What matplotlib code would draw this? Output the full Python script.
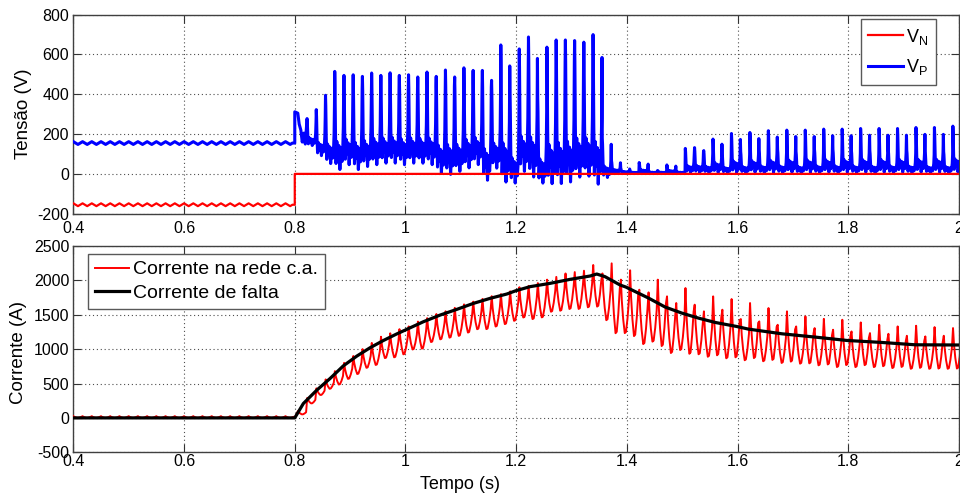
import numpy as np
import matplotlib
matplotlib.use("Agg")
import matplotlib.pyplot as plt

plt.rcParams['font.family'] = ['Liberation Sans', 'DejaVu Sans']
plt.rcParams['mathtext.fontset'] = 'custom'
plt.rcParams['mathtext.rm'] = 'Liberation Sans'
plt.rcParams['mathtext.it'] = 'Liberation Sans:italic'
plt.rcParams['axes.unicode_minus'] = False

FREQ = 60.0  # grid frequency (Hz)

# ---------------- data ----------------
# pre-fault ripple levels (V / A)
vp_pre_hi, vp_pre_lo = 162, 148
vn_pre_hi, vn_pre_lo = -148, -162
ia_pre_hi, ia_pre_lo = 25, 0
prefault_cycles = 24
t_prefault_start = 0.4
t_fault = 0.8

# V_P transient right after the fault
vp_trans_t = [0.8, 0.8, 0.8055, 0.808, 0.811, 0.8135, 0.8165, 0.819]
vp_trans_v = [155, 312, 305, 250, 220, 160, 205, 150]

# V_P: one peak and one minimum per 60 Hz cycle, first peak at 0.8222 s
vp_t_first = 0.8222
vp_peak = [278, 323, 395, 515, 495, 498, 490, 507, 495, 508,
           495, 498, 487, 512, 490, 522, 487, 533, 520, 520,
           470, 648, 395, 628, 688, 380, 637, 673, 673, 670,
           662, 700, 179, 65, 28, 15, 57, 17, 17, 45,
           17, 128, 132, 117, 175, 98, 203, 112, 208, 120,
           217, 123, 220, 112, 220, 123, 225, 123, 225, 120,
           228, 117, 228, 120, 228, 120, 233, 112, 233, 112, 240]
vp_low = [140, 87, 45, 12, 37, 12, 28, 37, 45, 45,
          37, 45, 45, 37, -5, -13, 3, 20, 37, -43,
          20, -55, -55, 0, -30, -55, -63, -63, -55, -30,
          -25, -67, -22, 4, 5, 5, 5, 5, 5, 5,
          5, 4, 4, 4, 4, 4, 4, 4, 4, 4,
          4, 4, 4, 4, 4, 4, 4, 4, 4, 4,
          4, 4, 4, 4, 4, 4, 4, 4, 4, 4, 4]
# shape of one V_P cycle (fraction of the peak-to-low swing)
vp_phase = [0.0, 0.03, 0.08, 0.14, 0.23, 0.34, 0.45, 0.56, 0.68, 0.79, 0.87, 0.93, 0.97]
vp_frac = [1.0, 0.85, 0.40, 0.08, 0.30, 0.14, 0.26, 0.02, 0.24, 0.10, 0.22, 0.45, 0.85]

# V_N after the fault
vn_post_t = [0.8, 0.8, 2.0]
vn_post_v = [-155, 0, 0]

# AC-grid current: one peak and one trough per cycle, first peak at 0.8058 s
ia_t_first = 0.8058
ia_peak = [100, 290, 430, 560, 680, 800, 900, 1000, 1090, 1180,
           1230, 1290, 1330, 1400, 1450, 1510, 1550, 1600, 1650, 1690,
           1730, 1770, 1800, 1840, 1900, 1920, 1960, 2010, 2050, 2100,
           2120, 2140, 2223, 2100, 2247, 2010, 2146, 1864, 1825, 2010,
           1767, 1670, 1888, 1646, 1549, 1767, 1573, 1728, 1437, 1670,
           1403, 1597, 1354, 1549, 1330, 1476, 1306, 1440, 1282, 1427,
           1257, 1388, 1233, 1354, 1223, 1330, 1194, 1340, 1185, 1320,
           1194, 1306]
ia_trough = [50, 209, 330, 420, 480, 560, 630, 720, 760, 860,
             870, 913, 985, 995, 1092, 1131, 1155, 1180, 1228, 1277,
             1277, 1315, 1350, 1398, 1446, 1422, 1446, 1529, 1543, 1568,
             1568, 1592, 1600, 1400, 1200, 1209, 1160, 1049, 1087, 1015,
             918, 966, 903, 903, 869, 884, 845, 855, 820, 845,
             806, 820, 782, 796, 772, 772, 748, 757, 723, 748,
             723, 748, 723, 733, 709, 723, 699, 709, 699, 699,
             699, 700]
ia_phase = [0.0, 0.10, 0.25, 0.42, 0.55, 0.72, 0.88]
ia_frac = [1.0, 0.62, 0.28, 0.03, 0.05, 0.30, 0.65]

# fault current (smooth)
fault_t = [0.40, 0.80, 0.8155, 0.8397, 0.8638, 0.8878, 0.912, 0.936, 0.960,
           0.984, 1.0, 1.0323, 1.0625, 1.0927, 1.1227, 1.1528, 1.183, 1.1993,
           1.225, 1.261, 1.297, 1.3335, 1.3456, 1.3606, 1.3877, 1.398, 1.4389,
           1.469, 1.4992, 1.5292, 1.5594, 1.5979, 1.6195, 1.6497, 1.6799,
           1.7099, 1.74, 1.7973, 1.8605, 1.9207, 2.0]
fault_i = [0, 0, 209, 403, 573, 757, 898, 1020, 1125,
           1220, 1279, 1398, 1495, 1578, 1665, 1738, 1801, 1849,
           1908, 1956, 2014, 2063, 2092, 2053, 1932, 1903, 1743,
           1612, 1524, 1451, 1388, 1330, 1291, 1257, 1223,
           1199, 1175, 1126, 1097, 1063, 1060]

x_ticks = [0.4, 0.6, 0.8, 1.0, 1.2, 1.4, 1.6, 1.8, 2.0]
v_ticks = [-200, 0, 200, 400, 600, 800]
i_ticks = [-500, 0, 500, 1000, 1500, 2000, 2500]


def cycles(t_first, peaks, lows, phases, fracs):
    ts, vs = [], []
    for k, (p, lo) in enumerate(zip(peaks, lows)):
        t0 = t_first + k / FREQ
        for ph, fr in zip(phases, fracs):
            ts.append(t0 + ph / FREQ)
            vs.append(lo + fr * (p - lo))
    return ts, vs


sine_phase = [0.0, 0.25, 0.5, 0.75]
sine_frac = [1.0, 0.5, 0.0, 0.5]

# V_P
t_a, v_a = cycles(t_prefault_start, [vp_pre_hi] * prefault_cycles,
                  [vp_pre_lo] * prefault_cycles, sine_phase, sine_frac)
t_b, v_b = cycles(vp_t_first, vp_peak, vp_low, vp_phase, vp_frac)
vp_t = np.array(t_a + vp_trans_t + t_b)
vp_v = np.array(v_a + vp_trans_v + v_b)
# V_N
t_a, v_a = cycles(t_prefault_start, [vn_pre_hi] * prefault_cycles,
                  [vn_pre_lo] * prefault_cycles, sine_phase, sine_frac)
vn_t = np.array(t_a + vn_post_t)
vn_v = np.array(v_a + vn_post_v)
# grid current
t_a, v_a = cycles(t_prefault_start, [ia_pre_hi] * prefault_cycles,
                  [ia_pre_lo] * prefault_cycles, ia_phase, ia_frac)
t_b, v_b = cycles(ia_t_first, ia_peak, ia_trough, ia_phase, ia_frac)
ia_t = np.array(t_a + [t_fault] + t_b)
ia_v = np.array(v_a + [0] + v_b)

# ---------------- figure ----------------
fig = plt.figure(figsize=(9.6, 4.98), dpi=100)
ax1 = fig.add_axes([0.0764, 0.5709, 0.9226, 0.3996])
ax2 = fig.add_axes([0.0764, 0.0918, 0.9226, 0.4143])

ax1.plot(vp_t, vp_v, color=(0, 0, 1), lw=2.2, zorder=3, label=r'V$_\mathrm{P}$')
ax1.plot(vn_t, vn_v, color=(1, 0, 0), lw=1.6, zorder=4, label=r'V$_\mathrm{N}$')
ax2.plot(ia_t, ia_v, color=(1, 0, 0), lw=1.4, zorder=3, label='Corrente na rede c.a.')
ax2.plot(fault_t, fault_i, color='black', lw=2.3, zorder=4, label='Corrente de falta')

fmt = lambda v, p: f"{v:g}"
for ax, yt, pad in ((ax1, v_ticks, 5), (ax2, i_ticks, 1.5)):
    ax.set_xlim(0.4, 2.0)
    ax.set_ylim(yt[0], yt[-1])
    ax.set_xticks(x_ticks)
    ax.set_yticks(yt)
    ax.xaxis.set_major_formatter(matplotlib.ticker.FuncFormatter(fmt))
    ax.tick_params(direction='in', top=True, right=True, length=6, width=0.8,
                   color='0.2', labelsize=11.5, labelcolor='black')
    ax.tick_params(axis='x', pad=pad)
    ax.tick_params(axis='y', pad=3)
    ax.grid(True, color='0.3', linestyle=(0, (1, 2.5)), linewidth=0.8)
    for s in ax.spines.values():
        s.set_color('0.25')
        s.set_linewidth(1.0)
    ax.set_axisbelow(True)

fig.text(24 / 960, 1 - 114 / 498, 'Tensão (V)', rotation=90, ha='center', va='center', fontsize=13.5)
fig.text(18.5 / 960, 1 - 352 / 498, 'Corrente (A)', rotation=90, ha='center', va='center', fontsize=13.5)
fig.text(460 / 960, 1 - 484 / 498, 'Tempo (s)', ha='center', va='center', fontsize=13)

h, l = ax1.get_legend_handles_labels()
leg1 = ax1.legend(h[::-1], l[::-1], loc='upper right', bbox_to_anchor=(0.974, 0.978),
                  borderaxespad=0, fancybox=False, edgecolor='0.35', framealpha=1,
                  fontsize=13, handlelength=1.9, handletextpad=0.2, borderpad=0.42,
                  labelspacing=0.6)
leg1.get_frame().set_linewidth(1.0)
leg2 = ax2.legend(loc='upper left', bbox_to_anchor=(0.0166, 0.961), borderaxespad=0,
                  fancybox=False, edgecolor='0.35', framealpha=1, fontsize=14,
                  handlelength=1.75, handletextpad=0.2, borderpad=0.35, labelspacing=0.3)
leg2.get_frame().set_linewidth(1.0)

fig.savefig('out.png', dpi=100)
